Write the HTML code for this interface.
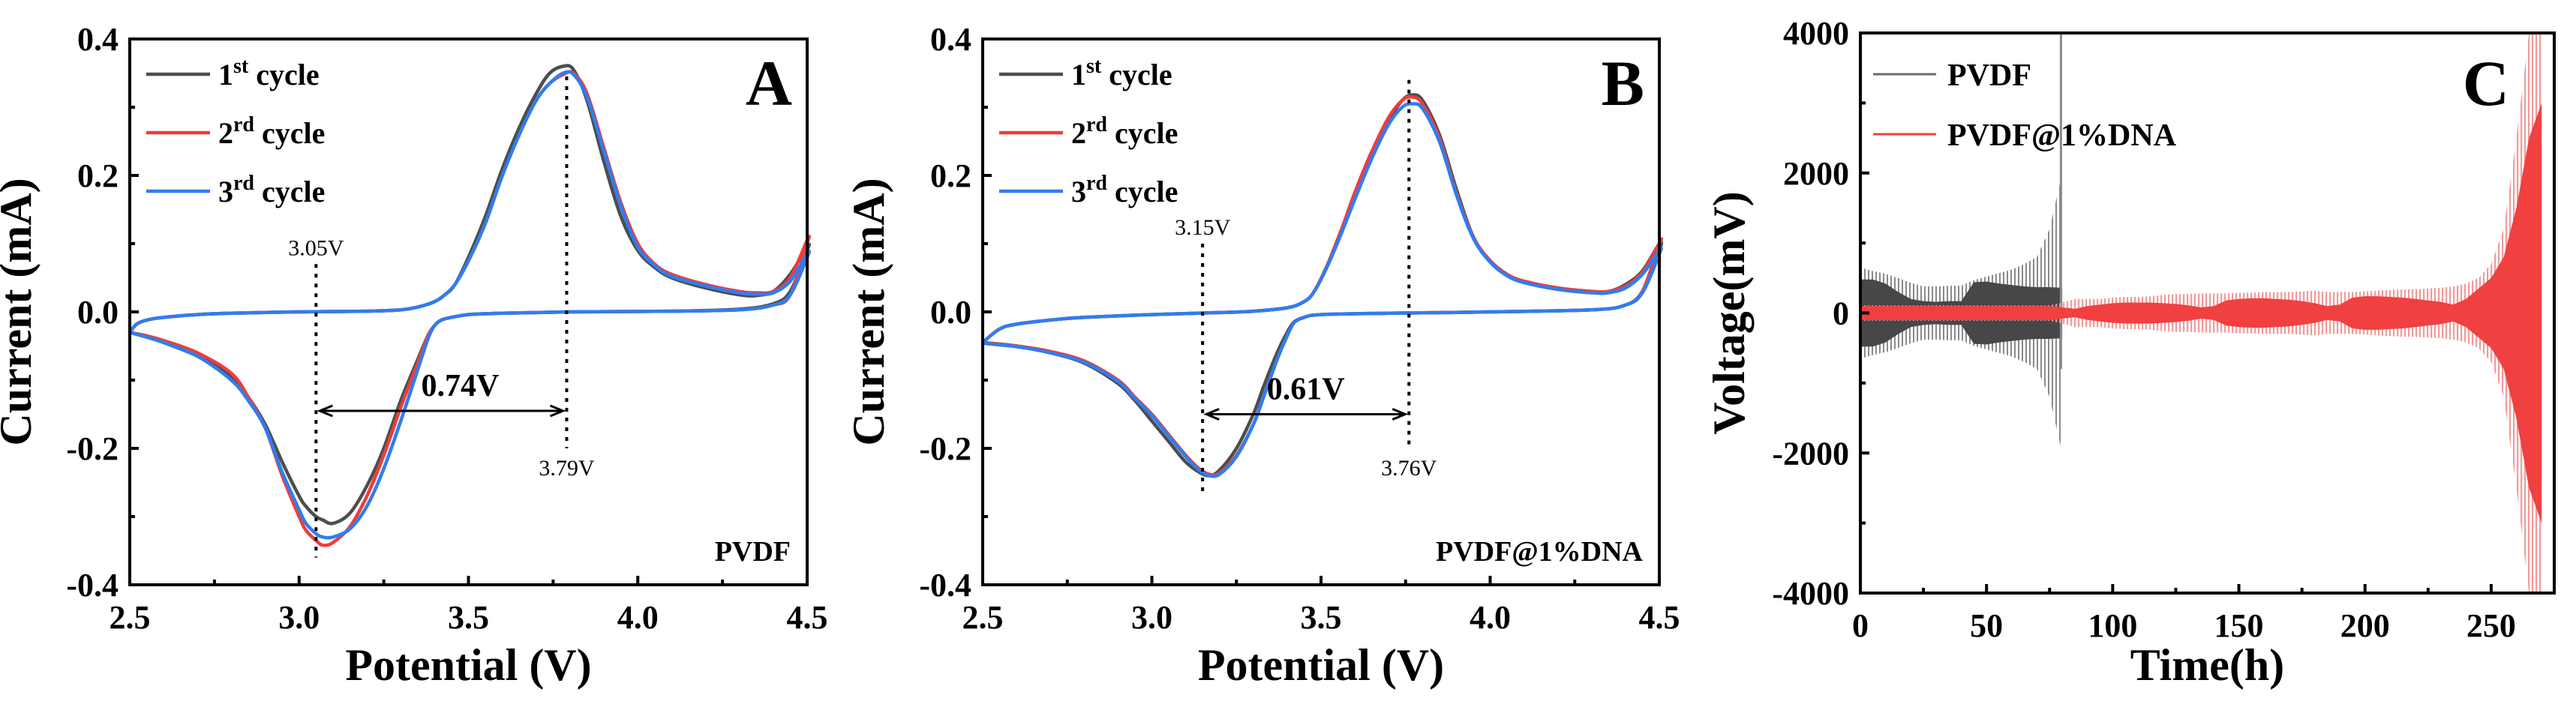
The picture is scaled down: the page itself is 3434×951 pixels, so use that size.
<!DOCTYPE html>
<html><head><meta charset="utf-8"><style>
html,body{margin:0;padding:0;background:#fff;}
svg{display:block;font-family:"Liberation Serif","DejaVu Serif",serif;font-weight:bold;}
svg text{font-family:"Liberation Serif","DejaVu Serif",serif;}
</style></head><body>
<svg id="fig" width="3434" height="951" viewBox="0 0 3434 951" font-family="Liberation Serif, serif" xmlns="http://www.w3.org/2000/svg">
<defs>
<pattern id="stripeRed" width="5" height="10" patternUnits="userSpaceOnUse"><rect x="0" y="0" width="2.2" height="10" fill="#f39a9a"/></pattern>
<pattern id="stripeGray" width="5" height="10" patternUnits="userSpaceOnUse"><rect x="0" y="0" width="2" height="10" fill="#8a8a8a"/></pattern>
<clipPath id="clipC"><rect x="2480" y="44" width="925" height="747"/></clipPath>
</defs>
</svg>
<script>
// ---------- Panel A data ----------
const aFwdV = [2.5,2.52,2.55,2.6,2.7,2.8,3.0,3.2,3.3,3.35,3.4,3.43,3.46,3.5,3.55,3.6,3.65,3.7,3.74,3.78,3.81,3.85,3.9,3.95,4.0,4.05,4.1,4.2,4.3,4.35,4.4,4.45,4.5];
const aFwdC1 = [-0.03,-0.018,-0.012,-0.008,-0.004,-0.002,0,0.001,0.003,0.007,0.015,0.025,0.04,0.08,0.14,0.21,0.27,0.32,0.35,0.36,0.355,0.31,0.22,0.14,0.09,0.065,0.05,0.035,0.025,0.024,0.03,0.055,0.095];
const aFwdC2 = [-0.03,-0.018,-0.012,-0.008,-0.004,-0.002,0,0.001,0.003,0.007,0.015,0.025,0.04,0.075,0.13,0.2,0.26,0.31,0.335,0.348,0.35,0.32,0.24,0.16,0.1,0.07,0.055,0.04,0.03,0.028,0.03,0.05,0.105];
const aFwdC3 = [-0.03,-0.018,-0.012,-0.008,-0.004,-0.002,0,0.001,0.003,0.007,0.015,0.025,0.04,0.075,0.13,0.2,0.26,0.31,0.335,0.35,0.348,0.315,0.235,0.155,0.095,0.068,0.052,0.038,0.028,0.026,0.028,0.045,0.085];
const aRevV = [4.5,4.45,4.4,4.3,4.1,3.8,3.6,3.5,3.45,3.42,3.4,3.38,3.35,3.3,3.25,3.2,3.15,3.1,3.07,3.05,3.02,3.0,2.95,2.9,2.85,2.8,2.7,2.6,2.55,2.5];
const aRevC1 = [0.09,0.03,0.012,0.004,0.001,0,-0.002,-0.004,-0.008,-0.012,-0.02,-0.035,-0.07,-0.13,-0.2,-0.255,-0.295,-0.31,-0.305,-0.3,-0.285,-0.27,-0.22,-0.165,-0.125,-0.095,-0.065,-0.045,-0.037,-0.03];
const aRevC2 = [0.1,0.025,0.01,0.003,0.001,0,-0.002,-0.004,-0.008,-0.012,-0.02,-0.035,-0.075,-0.14,-0.21,-0.27,-0.315,-0.338,-0.342,-0.335,-0.32,-0.3,-0.24,-0.17,-0.125,-0.09,-0.06,-0.042,-0.035,-0.03];
const aRevC3 = [0.08,0.025,0.01,0.003,0.001,0,-0.002,-0.004,-0.008,-0.012,-0.02,-0.04,-0.085,-0.16,-0.23,-0.285,-0.318,-0.33,-0.33,-0.325,-0.31,-0.29,-0.235,-0.17,-0.13,-0.1,-0.065,-0.045,-0.037,-0.03];
// ---------- Panel B data ----------
const bFwdV = [2.5,2.55,2.6,2.7,2.8,3.0,3.2,3.3,3.4,3.45,3.48,3.52,3.56,3.6,3.65,3.7,3.74,3.77,3.8,3.85,3.9,3.95,4.0,4.05,4.1,4.2,4.3,4.35,4.4,4.45,4.5];
const bFwdC1 = [-0.045,-0.025,-0.018,-0.012,-0.008,-0.004,-0.001,0.001,0.006,0.015,0.03,0.07,0.12,0.17,0.23,0.28,0.31,0.318,0.31,0.26,0.18,0.11,0.075,0.055,0.045,0.035,0.03,0.03,0.04,0.06,0.1];
const bFwdC2 = [-0.045,-0.025,-0.018,-0.012,-0.008,-0.004,-0.001,0.001,0.006,0.015,0.03,0.07,0.12,0.175,0.235,0.285,0.31,0.315,0.305,0.255,0.175,0.11,0.075,0.055,0.045,0.035,0.03,0.03,0.038,0.058,0.1];
const bFwdC3 = [-0.045,-0.025,-0.018,-0.012,-0.008,-0.004,-0.001,0.001,0.006,0.015,0.03,0.068,0.115,0.165,0.225,0.275,0.3,0.305,0.298,0.25,0.172,0.108,0.073,0.053,0.043,0.033,0.028,0.028,0.035,0.055,0.09];
const bRevV = [4.5,4.45,4.4,4.3,4.0,3.7,3.5,3.45,3.42,3.4,3.37,3.33,3.3,3.25,3.2,3.17,3.14,3.1,3.05,3.0,2.95,2.9,2.8,2.7,2.6,2.5];
const bRevC1 = [0.09,0.03,0.01,0.003,0,-0.002,-0.004,-0.008,-0.015,-0.03,-0.06,-0.11,-0.15,-0.2,-0.232,-0.24,-0.235,-0.22,-0.19,-0.16,-0.13,-0.105,-0.075,-0.06,-0.05,-0.045];
const bRevC2 = [0.1,0.03,0.01,0.003,0,-0.002,-0.004,-0.008,-0.016,-0.035,-0.07,-0.125,-0.165,-0.21,-0.236,-0.238,-0.23,-0.21,-0.18,-0.15,-0.125,-0.1,-0.072,-0.058,-0.05,-0.045];
const bRevC3 = [0.085,0.028,0.01,0.003,0,-0.002,-0.004,-0.008,-0.016,-0.035,-0.07,-0.125,-0.165,-0.212,-0.238,-0.24,-0.232,-0.212,-0.182,-0.152,-0.127,-0.102,-0.074,-0.06,-0.051,-0.046];
// ---------- Panel C data ----------
const blackTimes = [0,5,10,15,20,25,30,35,40,45,50,55,60,65,70,75,80];
const blackInner = [480,480,420,300,200,170,160,170,170,440,450,420,400,380,370,370,360];
const blackOuter = [650,600,560,500,430,380,380,390,390,470,520,570,620,700,800,1200,2000];
const blackSpikeT = 79.5, blackSpikeTop = 4000, blackSpikeBottom = -800;
const redTimes = [0,5,10,15,20,25,30,35,40,45,50,55,60,65,70,75,80,85,90,95,100,105,110,115,120,125,130,135,140,145,150,155,160,165,170,175,180,185,190,195,200,205,210,215,220,225,230,235,240,245,250,255,260,265,270];
const redInner = [100,100,100,100,100,100,100,100,100,100,100,100,100,100,100,100,80,60,100,120,140,150,150,150,140,130,110,80,100,180,200,210,210,200,190,170,140,100,120,220,240,240,230,220,200,180,160,120,200,350,500,800,1500,2500,3000];
const redOuter = [110,110,110,110,110,110,110,110,110,110,110,110,110,110,110,110,150,200,200,200,220,230,230,240,260,270,270,280,280,280,290,290,300,300,300,310,320,300,300,300,310,320,330,340,340,350,360,380,420,500,700,1200,2500,4000,4000];
const cvTicksY = [-0.4,-0.2,0.0,0.2,0.4];
const cvTickLabelsY = ["-0.4","-0.2","0.0","0.2","0.4"];
const cvTicksX = [2.5,3.0,3.5,4.0,4.5];
const cvTickLabelsX = ["2.5","3.0","3.5","4.0","4.5"];
const cTicksX = [0,50,100,150,200,250];
const cTicksY = [-4000,-2000,0,2000,4000];

const NS = "http://www.w3.org/2000/svg";
const svg = document.getElementById('fig');
const FF = '"Liberation Serif", "DejaVu Serif", serif';
function mk(tag, attrs, parent){const e=document.createElementNS(NS,tag);for(const k in attrs)e.setAttribute(k,attrs[k]);(parent||svg).appendChild(e);return e;}
function txt(s, attrs, parent){attrs['font-family']=FF;const e=mk('text',attrs,parent);e.textContent=s;return e;}
function smooth(pts){
  let d='M'+pts[0][0].toFixed(1)+','+pts[0][1].toFixed(1);
  for(let i=0;i<pts.length-1;i++){
    const p0=pts[Math.max(0,i-1)],p1=pts[i],p2=pts[i+1],p3=pts[Math.min(pts.length-1,i+2)];
    const c1x=p1[0]+(p2[0]-p0[0])/6,c1y=p1[1]+(p2[1]-p0[1])/6;
    const c2x=p2[0]-(p3[0]-p1[0])/6,c2y=p2[1]-(p3[1]-p1[1])/6;
    d+='C'+c1x.toFixed(1)+','+c1y.toFixed(1)+' '+c2x.toFixed(1)+','+c2y.toFixed(1)+' '+p2[0].toFixed(1)+','+p2[1].toFixed(1);
  }
  return d;
}

function cvPanel(P){
  const g = mk('g',{});
  
  
  const X = v => P.x0 + (v-2.5)/2*(P.x1-P.x0);
  const Y = i => P.y1 - (i+0.4)/0.8*(P.y1-P.y0);
  P.series.forEach(s=>{
    const pts=[];
    s.fv.forEach((v,k)=>pts.push([X(v),Y(s.fc[k])]));
    s.rv.forEach((v,k)=>pts.push([X(v),Y(s.rc[k])]));
    const p = mk('path',{d:smooth(pts),fill:'none',stroke:s.color,'stroke-width':4.5,'stroke-linejoin':'round'},g);
    
    
  });
  const dl1 = mk('line',{x1:X(P.v1),x2:X(P.v1),y1:Y(P.v1top),y2:Y(P.v1bot),stroke:'#000','stroke-width':4,'stroke-dasharray':'5 8'},g);
  
  
  const dl2 = mk('line',{x1:X(P.v2),x2:X(P.v2),y1:Y(P.v2top),y2:Y(P.v2bot),stroke:'#000','stroke-width':4,'stroke-dasharray':'5 8'},g);
  
  
  const ay = Y(P.arrowI);
  const ar = mk('path',{d:`M${X(P.v1)+5},${ay}L${X(P.v2)-5},${ay}M${X(P.v1)+22},${ay-7}L${X(P.v1)+5},${ay}L${X(P.v1)+22},${ay+7}M${X(P.v2)-22},${ay-7}L${X(P.v2)-5},${ay}L${X(P.v2)-22},${ay+7}`,stroke:'#000','stroke-width':3,fill:'none'},g);
  
  
  const t1 = txt(P.v1label,{x:X(P.v1),y:Y(P.v1top)-12,'text-anchor':'middle','font-size':30,'font-weight':'normal'},g);
  
  
  const t2 = txt(P.v2label,{x:X(P.v2),y:Y(P.v2bot)+36,'text-anchor':'middle','font-size':30,'font-weight':'normal'},g);
  
  
  const t3 = txt(P.gapLabel,{x:(X(P.v1)+X(P.v2))/2+P.gapDx,y:ay-20,'text-anchor':'middle','font-size':42},g);
  
  
  const t4 = txt(P.sample,{x:P.x1-22,y:P.y1-32,'text-anchor':'end','font-size':38},g);
  
  
  const t5 = txt(P.letter,{x:P.x1-20,y:140,'text-anchor':'end','font-size':86},g);
  
  
  P.series.forEach((s,k)=>{
    const ly = 99 + k*78;
    const lg = mk('g',{},g);
    
    
    mk('line',{x1:P.x0+22,x2:P.x0+107,y1:ly,y2:ly,stroke:s.color,'stroke-width':4.5},lg);
    const tt = txt('',{x:P.x0+118,y:ly+14,'font-size':40},lg);
    const a=document.createElementNS(NS,'tspan');a.textContent=s.num;tt.appendChild(a);
    const b=document.createElementNS(NS,'tspan');b.setAttribute('dy','-16');b.setAttribute('font-size','28');b.textContent=s.sup;tt.appendChild(b);
    const c=document.createElementNS(NS,'tspan');c.setAttribute('dy','16');c.textContent=' cycle';tt.appendChild(c);
  });
  const fr = mk('rect',{x:P.x0,y:P.y0,width:P.x1-P.x0,height:P.y1-P.y0,fill:'none',stroke:'#000','stroke-width':4},g);
  
  
  cvTicksX.forEach((v,k)=>{
    mk('line',{x1:X(v),x2:X(v),y1:P.y1,y2:P.y1-12,stroke:'#000','stroke-width':4},g);
    if(k<cvTicksX.length-1) mk('line',{x1:X(v+0.25),x2:X(v+0.25),y1:P.y1,y2:P.y1-7,stroke:'#000','stroke-width':4},g);
    const t = txt(cvTickLabelsX[k],{x:X(v),y:P.y1+58,'text-anchor':'middle','font-size':44},g);
    
    
  });
  cvTicksY.forEach((v,k)=>{
    mk('line',{x1:P.x0,x2:P.x0+12,y1:Y(v),y2:Y(v),stroke:'#000','stroke-width':4},g);
    if(k<cvTicksY.length-1) mk('line',{x1:P.x0,x2:P.x0+7,y1:Y(v+0.1),y2:Y(v+0.1),stroke:'#000','stroke-width':4},g);
    const t = txt(cvTickLabelsY[k],{x:P.x0-15,y:Y(v)+15,'text-anchor':'end','font-size':44},g);
    
    
  });
  const xt = txt('Potential (V)',{x:(P.x0+P.x1)/2,y:907,'text-anchor':'middle','font-size':60},g);
  
  
  const yt = txt('Current (mA)',{x:0,y:0,'text-anchor':'middle','font-size':60,transform:`translate(${P.x0-132},${(P.y0+P.y1)/2}) rotate(-90)`},g);
  
  
}

const cols = ['#4d4d4d','#f03c3c','#2f7df0'];
cvPanel({name:'panel-a-pvdf-cv',x0:173,x1:1076,y0:52,y1:780,letter:'A',sample:'PVDF',
  v1:3.05,v1top:0.07,v1bot:-0.36,v1label:'3.05V',v2:3.79,v2top:0.345,v2bot:-0.2,v2label:'3.79V',arrowI:-0.145,gapLabel:'0.74V',gapDx:25,
  series:[{key:'cycle-1',num:'1',sup:'st',color:cols[0],fv:aFwdV,fc:aFwdC1,rv:aRevV,rc:aRevC1},
          {key:'cycle-2',num:'2',sup:'rd',color:cols[1],fv:aFwdV,fc:aFwdC2,rv:aRevV,rc:aRevC2},
          {key:'cycle-3',num:'3',sup:'rd',color:cols[2],fv:aFwdV,fc:aFwdC3,rv:aRevV,rc:aRevC3}]});
cvPanel({name:'panel-b-pvdf-dna-cv',x0:1310,x1:2212,y0:52,y1:780,letter:'B',sample:'PVDF@1%DNA',
  v1:3.15,v1top:0.1,v1bot:-0.27,v1label:'3.15V',v2:3.76,v2top:0.34,v2bot:-0.2,v2label:'3.76V',arrowI:-0.15,gapLabel:'0.61V',gapDx:0,
  series:[{key:'cycle-1',num:'1',sup:'st',color:cols[0],fv:bFwdV,fc:bFwdC1,rv:bRevV,rc:bRevC1},
          {key:'cycle-2',num:'2',sup:'rd',color:cols[1],fv:bFwdV,fc:bFwdC2,rv:bRevV,rc:bRevC2},
          {key:'cycle-3',num:'3',sup:'rd',color:cols[2],fv:bFwdV,fc:bFwdC3,rv:bRevV,rc:bRevC3}]});

// ---------- Panel C ----------
(function(){
  const x0=2480,x1=3405,y0=44,y1=791;
  const X = t => x0 + t/275*(x1-x0);
  const Y = v => y1 - (v+4000)/8000*(y1-y0);
  const g = mk('g',{});
  
  
  const plot = mk('g',{'clip-path':'url(#clipC)'},g);
  function band(times, amps, fill, name){
    let d='';
    times.forEach((t,k)=>{d+=(k?'L':'M')+X(t).toFixed(1)+','+Y(amps[k]).toFixed(1);});
    for(let k=times.length-1;k>=0;k--) d+='L'+X(times[k]).toFixed(1)+','+Y(-amps[k]).toFixed(1);
    const p = mk('path',{d:d+'Z',fill:fill,stroke:'none'},plot);
    
    
  }
  band(blackTimes, blackOuter, 'url(#stripeGray)', 'pvdf-outer-envelope');
  band(blackTimes, blackInner, '#474747', 'pvdf-inner-band');
  const sp = mk('line',{x1:X(blackSpikeT),x2:X(blackSpikeT),y1:Y(blackSpikeTop),y2:Y(blackSpikeBottom),stroke:'#8a8a8a','stroke-width':3},plot);
  
  
  band(redTimes, redOuter, 'url(#stripeRed)', 'dna-outer-envelope');
  band(redTimes, redInner, '#f04040', 'dna-inner-band');
  const fr = mk('rect',{x:x0,y:y0,width:x1-x0,height:y1-y0,fill:'none',stroke:'#000','stroke-width':4},g);
  
  
  cTicksX.forEach(t=>{
    mk('line',{x1:X(t),x2:X(t),y1:y1,y2:y1-12,stroke:'#000','stroke-width':4},g);
    mk('line',{x1:X(t+25),x2:X(t+25),y1:y1,y2:y1-7,stroke:'#000','stroke-width':4},g);
    const l = txt(String(t),{x:X(t),y:y1+58,'text-anchor':'middle','font-size':44},g);
    
    
  });
  cTicksY.forEach((v,k)=>{
    mk('line',{x1:x0,x2:x0+12,y1:Y(v),y2:Y(v),stroke:'#000','stroke-width':4},g);
    if(k<cTicksY.length-1) mk('line',{x1:x0,x2:x0+7,y1:Y(v+1000),y2:Y(v+1000),stroke:'#000','stroke-width':4},g);
    const l = txt(String(v),{x:x0-15,y:Y(v)+15,'text-anchor':'end','font-size':44},g);
    
    
  });
  const legendItems = [['PVDF','#6a6a6a',99],['PVDF@1%DNA','#f04040',179]];
  legendItems.forEach(li=>{
    const lg = mk('g',{},g);
    
    
    mk('line',{x1:2497,x2:2581,y1:li[2],y2:li[2],stroke:li[1],'stroke-width':3},lg);
    txt(li[0],{x:2596,y:li[2]+15,'font-size':42},lg);
  });
  const L = txt('C',{x:3345,y:140,'text-anchor':'end','font-size':86},g);
  
  
  const xt = txt('Time(h)',{x:(x0+x1)/2,y:907,'text-anchor':'middle','font-size':60},g);
  
  
  const yt = txt('Voltage(mV)',{x:0,y:0,'text-anchor':'middle','font-size':60,transform:`translate(2325,${(y0+y1)/2}) rotate(-90)`},g);
  
  
})();
</script>
</body></html>
